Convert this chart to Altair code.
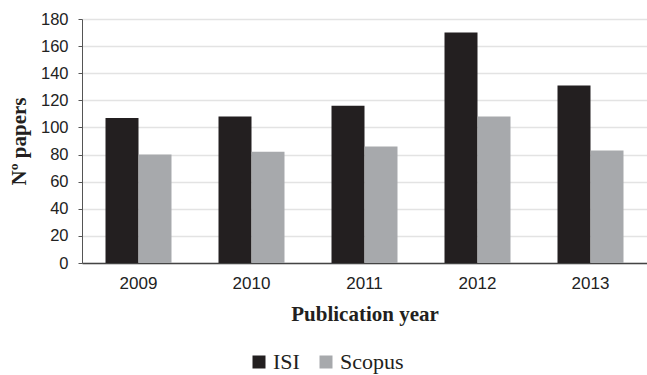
import altair as alt
import pandas as pd

years = ["2009", "2010", "2011", "2012", "2013"]
isi = [107, 108, 116, 170, 131]
scopus = [80, 82, 86, 108, 83]
sources = ["ISI", "Scopus"]

rows = []
for y, a, b in zip(years, isi, scopus):
    rows.append({"year": y, "source": "ISI", "papers": a})
    rows.append({"year": y, "source": "Scopus", "papers": b})
df = pd.DataFrame(rows)

chart = alt.Chart(df).mark_bar().encode(
    x=alt.X("year:N", sort=years, title="Publication year",
            scale=alt.Scale(paddingInner=0.416, paddingOuter=0.208),
            axis=alt.Axis(labelAngle=0, ticks=False, domainColor="#444", domainWidth=1.5,
                          labelFont="Liberation Sans", labelFontSize=17, labelColor="#222",
                          labelPadding=12, titleFont="Liberation Serif", titleFontSize=21,
                          titleFontWeight="bold", titleColor="#231f20", titlePadding=12)),
    xOffset=alt.XOffset("source:N", sort=sources),
    y=alt.Y("papers:Q", title="Nº papers",
            scale=alt.Scale(domain=[0, 180], nice=False),
            axis=alt.Axis(values=list(range(0, 181, 20)), tickSize=4, tickColor="#555",
                          domainColor="#555", gridColor="#e3e3e3", gridWidth=1.5,
                          labelFont="Liberation Sans", labelFontSize=16.5, labelColor="#222",
                          labelPadding=10, titleFont="Liberation Serif", titleFontSize=21,
                          titleFontWeight="bold", titleColor="#231f20", titlePadding=11)),
    color=alt.Color("source:N", sort=sources, title=None,
                    scale=alt.Scale(domain=sources, range=["#231f20", "#a7a9ac"]),
                    legend=alt.Legend(orient="none", direction="horizontal", legendX=166,
                                      legendY=332, symbolType="square", symbolSize=169,
                                      symbolStrokeWidth=0, labelFont="Liberation Serif",
                                      labelFontSize=22, labelColor="#231f20",
                                      columnPadding=15, labelOffset=3)),
).properties(
    width=565, height=244,
    autosize=alt.AutoSizeParams(type="none"),
    padding={"left": 82, "top": 19, "right": 0, "bottom": 112},
).configure_view(stroke=None)

chart.save("out.html", embed_options={"renderer": "svg", "actions": False})
